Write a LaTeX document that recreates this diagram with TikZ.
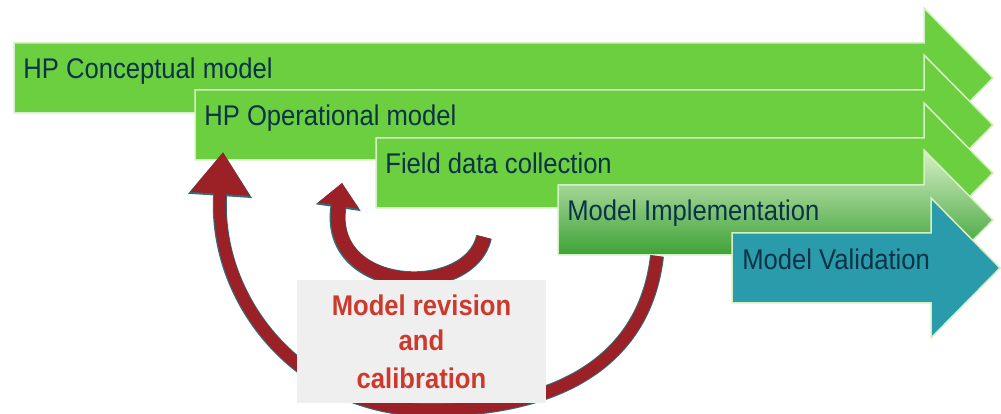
\documentclass[tikz,border=0pt]{standalone}
\usepackage{fontspec}
\setmainfont{Liberation Sans}[FakeStretch=0.9]
\usetikzlibrary{arrows.meta}

\definecolor{stagegreen}{HTML}{6CCF3F}
\definecolor{stageedge}{HTML}{D6F0C6}
\definecolor{stageteal}{HTML}{2A9BAB}
\definecolor{stageink}{HTML}{0B3347}
\definecolor{loopred}{HTML}{9C2127}
\definecolor{loopedge}{HTML}{2F6E7C}
\definecolor{revred}{HTML}{CC3A2E}
\definecolor{boxgrey}{HTML}{EFEFEF}

% block arrow: left x, top y, end of shaft, style
\newcommand{\stagearrow}[4]{%
  \path[#4] (#1,#2) -- (#3,#2) -- (#3,{#2-35}) -- ({#3+69},{#2+35})
    -- (#3,{#2+105}) -- (#3,{#2+70}) -- (#1,{#2+70}) -- cycle;}

\begin{document}
\begin{tikzpicture}[x=0.2mm, y=-0.2mm,
    stagebox/.style={fill=stagegreen, draw=stageedge, line width=0.3mm},
    stagelabel/.style={anchor=base west, inner sep=0pt, text=stageink,
      font=\fontsize{16.2}{19}\selectfont},
    bigloop/.style={draw=loopred, line width=2.4mm,
      -{Triangle[length=8.4mm, width=11.4mm]},
      preaction={draw=loopedge, line width=2.8mm,
        -{Triangle[length=8.8mm, width=12.2mm]}}},
    smallloop/.style={draw=loopred, line width=2.8mm,
      -{Triangle[length=4.6mm, width=8mm]},
      preaction={draw=loopedge, line width=3.2mm,
        -{Triangle[length=5mm, width=8.8mm]}}}]
  \useasboundingbox (0,0) rectangle (1001,414);

  % the five stages
  \stagearrow{14}{43}{924}{stagebox}
  \node[stagelabel] (concept) at (23,79) {HP Conceptual model};
  \stagearrow{195}{90}{924}{stagebox}
  \node[stagelabel] (operational) at (204,126) {HP Operational model};
  \stagearrow{376}{138}{924}{stagebox}
  \node[stagelabel] (field) at (385,174) {Field data collection};
  \stagearrow{558}{185}{924}{top color=stageedge, middle color=green!55!black!45!stagegreen,
    bottom color=green!50!black!90!stagegreen, draw=stageedge, line width=0.3mm}
  \node[stagelabel] (implement) at (567,221) {Model Implementation};
  \stagearrow{732}{233}{931}{fill=stageteal, draw=stageedge, line width=0.3mm}
  \node[stagelabel] (validate) at (742,270) {Model Validation};

  % feedback loops
  \coordinate (bigtail) at (657,256);
  \coordinate (bigtip) at (223,152);
  \coordinate (smalltail) at (484,237);
  \coordinate (smalltip) at (342,183);
  \draw[bigloop] (bigtail) .. controls (645,360) and (560,410) .. (430,410)
    .. controls (300,410) and (213,300) .. (bigtip);
  \draw[smallloop] (smalltail) .. controls (470,300) and (325,295) .. (smalltip);

  \node[fill=boxgrey, minimum width=49.8mm, minimum height=24.6mm, align=center,
    text=revred, font=\fontsize{16.2}{21.6}\selectfont\bfseries] (revision)
    at (421.5,341.5) {\raisebox{-0.6mm}{Model revision}\\and\\calibration};
\end{tikzpicture}
\end{document}
